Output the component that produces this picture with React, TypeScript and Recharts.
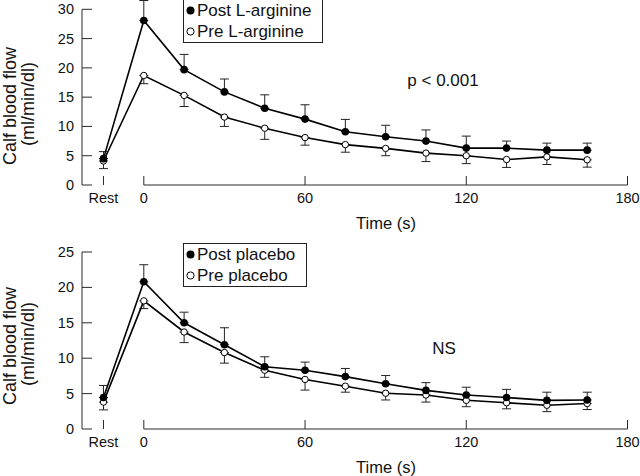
import { LineChart, Line, XAxis, YAxis, ErrorBar, ReferenceLine, Legend } from "recharts";

// "Rest" is plotted at a dummy time left of 0 s
const REST = -15;
const X_MIN = -23;
const times = [REST, 0, 15, 30, 45, 60, 75, 90, 105, 120, 135, 150, 165];
const timeTicks = [REST, 0, 60, 120, 180];

// upper panel: L-arginine
const postArginine = [4.5, 28.1, 19.7, 15.9, 13.1, 11.25, 9.1, 8.25, 7.5, 6.3, 6.3, 5.95, 5.95];
const postArginineTop = [5.7, 31.5, 22.3, 18.1, 15.4, 13.7, 11.2, 10.2, 9.4, 8.35, 7.5, 7.15, 7.15];
const preArginine = [4.1, 18.7, 15.3, 11.6, 9.7, 8.1, 6.9, 6.25, 5.45, 5.0, 4.35, 4.8, 4.3];
const preArginineBottom = [2.8, 17.3, 13.4, 10.0, 7.8, 6.8, 5.6, 5.0, 4.0, 3.65, 3.0, 3.5, 3.05];
const arginineTicks = [0, 5, 10, 15, 20, 25, 30];

// lower panel: placebo
const postPlacebo = [4.45, 20.8, 15.0, 11.9, 8.8, 8.3, 7.4, 6.4, 5.45, 4.8, 4.45, 4.05, 4.1];
const postPlaceboTop = [6.15, 23.2, 16.5, 14.3, 10.2, 9.45, 8.55, 7.55, 6.55, 5.9, 5.6, 5.2, 5.2];
const prePlacebo = [3.8, 18.1, 13.7, 10.8, 8.3, 7.0, 6.05, 5.05, 4.8, 4.05, 3.7, 3.35, 3.6];
const prePlaceboBottom = [2.7, 17.0, 12.2, 9.3, 7.3, 5.5, 5.2, 4.1, 3.8, 3.15, 2.85, 2.45, 2.75];
const placeboTicks = [0, 5, 10, 15, 20, 25];

const FONT = '"Liberation Sans", Arial, Helvetica, sans-serif';
const AXIS = "#2a2a2a";
const INK = "#111";

// one-sided error bars: up for "post", down for "pre"
const buildRows = (post: number[], postTop: number[], pre: number[], preBottom: number[]) =>
  times.map((t, i) => ({
    t,
    post: post[i],
    pre: pre[i],
    postErr: [0, +(postTop[i] - post[i]).toFixed(2)],
    preErr: [+(pre[i] - preBottom[i]).toFixed(2), 0],
  }));

const arginineRows = buildRows(postArginine, postArginineTop, preArginine, preArginineBottom);
const placeboRows = buildRows(postPlacebo, postPlaceboTop, prePlacebo, prePlaceboBottom);

const TimeTick = (props: any) => {
  const { x, y, payload } = props;
  return (
    <g>
      <line x1={x} y1={y} x2={x} y2={y - 9} stroke={AXIS} strokeWidth={1} />
      <text x={x} y={y + 13} textAnchor="middle" dominantBaseline="central" fontSize={14.5} fill={INK}>
        {payload.value === REST ? "Rest" : payload.value}
      </text>
    </g>
  );
};

const FlowTick = (props: any) => {
  const { x, y, payload } = props;
  return (
    <g>
      <line x1={x} y1={y} x2={x + 10} y2={y} stroke={AXIS} strokeWidth={1} />
      <text x={x - 8} y={y} textAnchor="end" dominantBaseline="central" fontSize={14.5} fill={INK}>
        {payload.value}
      </text>
    </g>
  );
};

const renderLegend = (props: any) => {
  const items = [...(props.payload ?? [])].sort((a: any, b: any) =>
    a.dataKey === "post" ? -1 : b.dataKey === "post" ? 1 : 0
  );
  return (
    <div style={{ border: "1px solid #222", padding: "0 11px 0 2px", background: "#fff", fontFamily: FONT, fontSize: 17, color: INK }}>
      {items.map((it: any) => (
        <div key={it.dataKey} style={{ display: "flex", alignItems: "center", height: 21, whiteSpace: "nowrap" }}>
          <svg width={9} height={9} style={{ marginRight: 2 }}>
            <circle
              cx={4.5}
              cy={4.5}
              r={it.dataKey === "post" ? 4 : 3.6}
              fill={it.dataKey === "post" ? "#000" : "#fff"}
              stroke="#000"
              strokeWidth={it.dataKey === "post" ? 0 : 1}
            />
          </svg>
          <span>{it.value}</span>
        </div>
      ))}
    </div>
  );
};

interface PanelProps {
  rows: any[];
  yTop: number; // last tick, where the y axis line stops
  yMax: number; // scale maximum (may sit above the axis line)
  yTicks: number[];
  postName: string;
  preName: string;
  height: number;
  marginTop: number;
  axisHeight: number;
  legendTop: number;
}

const Panel = ({ rows, yTop, yMax, yTicks, postName, preName, height, marginTop, axisHeight, legendTop }: PanelProps) => (
  <LineChart width={640} height={height} data={rows} margin={{ top: marginTop, right: 12.5, bottom: 0, left: 0 }}>
    <XAxis
      type="number"
      dataKey="t"
      domain={[X_MIN, 180]}
      ticks={timeTicks}
      interval={0}
      axisLine={false}
      tickLine={false}
      tickSize={0}
      tickMargin={0}
      tick={TimeTick}
      height={axisHeight}
    />
    <YAxis
      type="number"
      domain={[0, yMax]}
      ticks={yTicks}
      interval={0}
      axisLine={false}
      tickLine={false}
      tickSize={0}
      tickMargin={0}
      tick={FlowTick}
      width={82}
    />
    <ReferenceLine segment={[{ x: X_MIN, y: 0 }, { x: X_MIN, y: yTop }]} stroke={AXIS} strokeWidth={1} />
    <ReferenceLine segment={[{ x: 0, y: 0 }, { x: 180, y: 0 }]} stroke={AXIS} strokeWidth={1} />
    <Line
      type="linear"
      dataKey="pre"
      name={preName}
      stroke="#000"
      strokeWidth={1.6}
      dot={{ r: 3.2, fill: "#fff", stroke: "#000", strokeWidth: 1 }}
      activeDot={false}
      isAnimationActive={false}
    >
      <ErrorBar dataKey="preErr" width={4.5} stroke="#222" strokeWidth={1} direction="y" />
    </Line>
    <Line
      type="linear"
      dataKey="post"
      name={postName}
      stroke="#000"
      strokeWidth={1.6}
      dot={{ r: 3.8, fill: "#000", stroke: "#000", strokeWidth: 0 }}
      activeDot={false}
      isAnimationActive={false}
    >
      <ErrorBar dataKey="postErr" width={4.5} stroke="#222" strokeWidth={1} direction="y" />
    </Line>
    <Legend
      layout="vertical"
      align="center"
      verticalAlign="middle"
      content={renderLegend}
      wrapperStyle={{ left: 183, top: legendTop, width: "auto" }}
    />
  </LineChart>
);

const textAt = (x: number, y: number, size: number, rotate = false): React.CSSProperties => ({
  position: "absolute",
  left: x,
  top: y,
  transform: `translate(-50%, -50%)${rotate ? " rotate(-90deg)" : ""}`,
  whiteSpace: "nowrap",
  fontSize: size,
  lineHeight: rotate ? 1 : 1.15,
});

export default function App() {
  return (
    <div style={{ position: "relative", width: 640, height: 476, background: "#fff", color: INK, fontFamily: FONT }}>
      <style>{"body{margin:0}"}</style>
      <div style={{ position: "absolute", left: 0, top: 0 }}>
        <Panel
          rows={arginineRows}
          yTop={30}
          yMax={31.59}
          yTicks={arginineTicks}
          postName="Post L-arginine"
          preName="Pre L-arginine"
          height={235}
          marginTop={0}
          axisHeight={50}
          legendTop={-1}
        />
      </div>
      <div style={{ position: "absolute", left: 0, top: 240 }}>
        <Panel
          rows={placeboRows}
          yTop={25}
          yMax={25}
          yTicks={placeboTicks}
          postName="Post placebo"
          preName="Pre placebo"
          height={236}
          marginTop={12}
          axisHeight={47}
          legendTop={3}
        />
      </div>

      <div style={textAt(9.8, 105.5, 18, true)}>Calf blood flow</div>
      <div style={textAt(28, 104, 18, true)}>(ml/min/dl)</div>
      <div style={textAt(386, 223, 16.5)}>Time (s)</div>
      <div style={textAt(443, 81, 17)}>p &lt; 0.001</div>

      <div style={textAt(9.8, 346, 18, true)}>Calf blood flow</div>
      <div style={textAt(28, 344, 18, true)}>(ml/min/dl)</div>
      <div style={textAt(386, 466.5, 16.5)}>Time (s)</div>
      <div style={textAt(444, 349, 17)}>NS</div>
    </div>
  );
}
